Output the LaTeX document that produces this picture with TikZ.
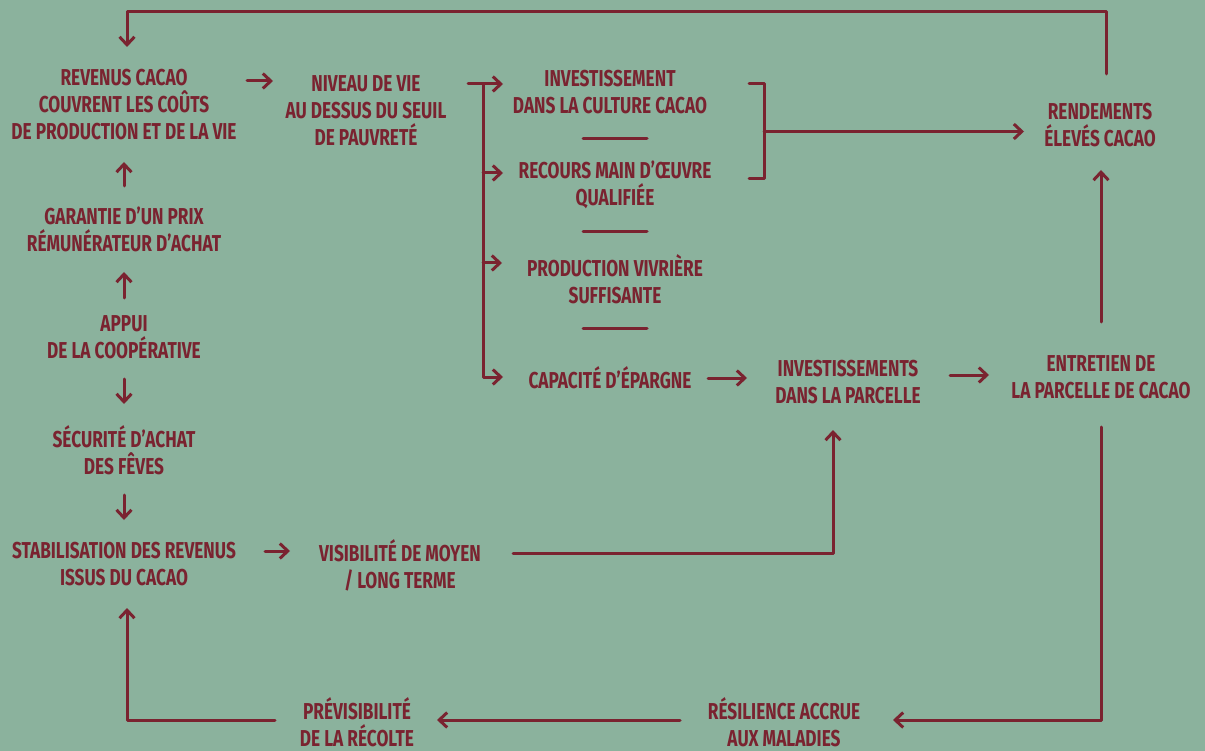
\documentclass[tikz,border=0pt]{standalone}
\usepackage{fontspec}
\setmainfont[FakeStretch=0.75]{Fira Sans}
\usepackage{xcolor}
\usepackage{tikz}
\usetikzlibrary{arrows.meta,calc}
\definecolor{sage}{HTML}{8BB29D}
\definecolor{wine}{HTML}{7A2330}
\tikzset{fig/.style={line join=round,>={Straight Barb[length=8pt,width=15pt]}},
  lbl/.style={align=center,inner sep=0pt,text=wine,font=\fontsize{23}{27}\selectfont\bfseries},
  rule/.style={wine,line width=3pt,line cap=round},
  arr/.style={rule,->}}

\begin{document}
\begin{tikzpicture}[fig,x=1pt,y=-1pt]
  \fill[sage](0,0)rectangle(1205,751);
  % left column
  \node[lbl](rev)at(124,105){REVENUS CACAO\\COUVRENT LES COÛTS\\DE PRODUCTION ET DE LA VIE};
  \node[lbl](gar)at(124,229){GARANTIE D’UN PRIX\\RÉMUNÉRATEUR D’ACHAT};
  \node[lbl](app)at(124,337){APPUI\\DE LA COOPÉRATIVE};
  \node[lbl](sec)at(124,450){SÉCURITÉ D’ACHAT\\DES FÊVES};
  \node[lbl](stab)at(124,564){STABILISATION DES REVENUS\\ISSUS DU CACAO};
  \node[lbl](niv)at(366,111){NIVEAU DE VIE\\AU DESSUS DU SEUIL\\DE PAUVRETÉ};
  \node[lbl](vis)at(400,565){VISIBILITÉ DE MOYEN\\/ LONG TERME};
  \node[lbl](prev)at(357,722){PRÉVISIBILITÉ\\DE LA RÉCOLTE};
  % middle
  \node[lbl](ic)at(610,92){INVESTISSEMENT\\DANS LA CULTURE CACAO};
  \node[lbl](rec)at(615,185){RECOURS MAIN D’ŒUVRE\\QUALIFIÉE};
  \node[lbl](prod)at(615,279){PRODUCTION VIVRIÈRE\\SUFFISANTE};
  \node[lbl](cap)at(610,378){CAPACITÉ D’ÉPARGNE};
  \node[lbl](inv)at(848,382){INVESTISSEMENTS\\DANS LA PARCELLE};
  \node[lbl](res)at(784,722){RÉSILIENCE ACCRUE\\AUX MALADIES};
  % right
  \node[lbl](rend)at(1100,125){RENDEMENTS\\ÉLEVÉS CACAO};
  \node[lbl](ent)at(1101,377){ENTRETIEN DE\\LA PARCELLE DE CACAO};

  % column arrows
  \draw[arr,shorten <=43pt,shorten >=57pt](gar.center)--(rev.center);
  \draw[arr,shorten <=39pt,shorten >=43pt](app.center)--(gar.center);
  \draw[arr,shorten <=42pt,shorten >=46pt](app.center)--(sec.center);
  \draw[arr,shorten <=45pt,shorten >=44pt](sec.center)--(stab.center);
  \draw[arr,shorten <=123pt,shorten >=93pt]([yshift=24pt]rev.center)--([yshift=30pt]niv.center);
  \draw[arr,shorten <=141pt,shorten >=110pt]([yshift=13pt]stab.center)--([yshift=14pt]vis.center);
  \draw[arr,shorten <=98pt,shorten >=101pt](cap.center)--([yshift=4pt]inv.center);
  \draw[arr,shorten <=102pt,shorten >=112pt]([yshift=7pt]inv.center)--([yshift=2pt]ent.center);

  % fork out of niv
  \coordinate(fork)at(483,84);
  \draw[arr,shorten <=102pt,shorten >=107pt]([yshift=27pt]niv.center)--([yshift=8pt]ic.center);
  \coordinate(t)at([yshift=1pt]cap.center);
  \draw[arr,shorten >=107pt](fork)|-(t);
  \foreach \n/\dy/\s in {rec/12/112,prod/16/113}{
    \coordinate(t)at([yshift=\dy pt]\n.center);
    \draw[arr,shorten >=\s pt](fork|-t)--(t);}
  \foreach \a/\b in {ic/rec,rec/prod,prod/cap}{
    \coordinate(m)at($(\a)!.5!(\b)$);
    \draw[rule](m-|rec)+(-32,0)--+(32,0);}

  % bracket to rend
  \coordinate(b1)at([xshift=139pt,yshift=8pt]ic.center);
  \coordinate(b2)at([xshift=134pt,yshift=6pt]rec.center);
  \draw[rule](b1)-|([xshift=15pt]b2)--(b2);
  \coordinate(bm)at($(b1)!.5!(b2)+(15,0)$);
  \draw[arr,shorten >=76pt](bm)--(bm-|rend.center);

  % loops
  \draw[arr,shorten <=55pt,shorten >=45pt](ent.center)--(ent.center|-rend.center);
  \coordinate(top)at(0,12);
  \draw[arr,shorten <=51pt,shorten >=58pt]([xshift=6pt]rend.center)--([xshift=6pt]rend.center|-top)-|([xshift=3pt]rev.center);
  \draw[arr,shorten <=113pt,shorten >=48pt]([yshift=12pt]vis.center)-|([xshift=-15pt]inv.center);
  \draw[arr,shorten <=50pt,shorten >=109pt](ent.center)|-([yshift=2pt]res.center);
  \draw[arr,shorten <=104pt,shorten >=80pt]([yshift=2pt]res.center)--([yshift=2pt]prev.center);
  \draw[arr,shorten <=82pt,shorten >=44pt]([yshift=2pt]prev.center)-|([xshift=3pt]stab.center);
\end{tikzpicture}
\end{document}
